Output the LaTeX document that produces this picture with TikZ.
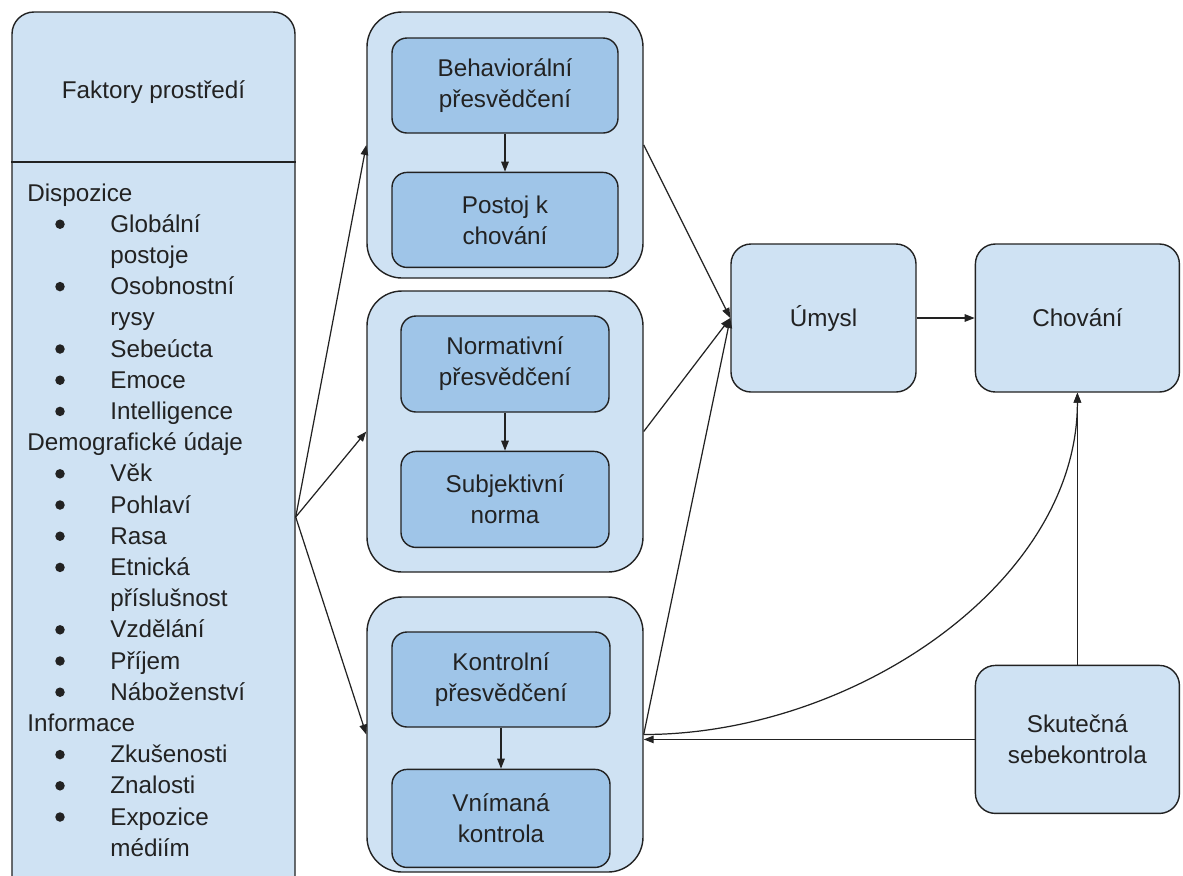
\documentclass[tikz,border=0pt]{standalone}
\usepackage{fontspec}
\setmainfont{Liberation Sans}
\usetikzlibrary{positioning,arrows.meta}
\definecolor{boxbg}{HTML}{CFE2F3}
\definecolor{innerbg}{HTML}{9FC5E8}
\definecolor{ink}{HTML}{222222}

\begin{document}
\begin{tikzpicture}[x=0.2mm,y=-0.2mm,
  every node/.style={font=\fontsize{13.8}{17.7}\selectfont,text=ink},
  >={Triangle[length=2mm,width=1.5mm]},
  group/.style={draw=ink,line width=0.8pt,fill=boxbg,rounded corners=7mm,minimum width=55.2mm},
  inner/.style={draw=ink,line width=0.8pt,fill=innerbg,rounded corners=3mm,align=center,minimum height=19mm},
  outer/.style={draw=ink,line width=0.8pt,fill=boxbg,rounded corners=4mm,align=center,minimum height=29.6mm},
  conn/.style={->,line width=0.7pt,draw=ink},
  listtxt/.style={anchor=base west,inner sep=0pt}]
  \useasboundingbox (0,0) rectangle (1183,875);
  \clip (0,0) rectangle (1183,875);

  % left column
  \node[draw=ink,line width=0.8pt,fill=boxbg,rounded corners=4.4mm,
        minimum width=56.6mm,minimum height=202mm,inner sep=0pt] (factors) at (153.5,517) {};
  \draw[line width=0.8pt,draw=ink] (factors.west |- 0,162) -- (factors.east |- 0,162);
  \node (ftitle) at (153.5,92) {Faktory prostředí};
  \foreach \k/\t [count=\i from 0] in {0/Dispozice,1/Globální,1/postoje,1/Osobnostní,1/rysy,
      1/Sebeúcta,1/Emoce,1/Intelligence,0/Demografické údaje,1/Věk,1/Pohlaví,1/Rasa,
      1/Etnická,1/příslušnost,1/Vzdělání,1/Příjem,1/Náboženství,0/Informace,
      1/Zkušenosti,1/Znalosti,1/Expozice,1/médiím}
    \node[listtxt] (li\i) at ({27+83*\k},{201+31.2*\i}) {\t};
  \foreach \i in {1,3,5,6,7,9,10,11,12,14,15,16,18,19,20}
    \fill[ink] (60,{193+31.2*\i}) circle[radius=0.95mm];

  % middle groups
  \node[group,minimum height=53.2mm] (g1) at (505,145) {};
  \node[group,minimum height=56.2mm] (g2) at (505,431.5) {};
  \node[group,minimum height=55mm] (g3) at (505,734.5) {};

  \node[inner,minimum width=45.2mm] (bpres) at (505,85.5) {Behaviorální\\přesvědčení};
  \node[inner,minimum width=45.2mm,below=7.6mm of bpres] (postoj) {Postoj k\\chování};
  \node[inner,minimum width=41.6mm,minimum height=19.2mm] (npres) at (505,364) {Normativní\\přesvědčení};
  \node[inner,minimum width=41.6mm,minimum height=19.2mm,below=7.6mm of npres] (subj) {Subjektivní\\norma};
  \node[inner,minimum width=43.6mm] (kpres) at (501,679.5) {Kontrolní\\přesvědčení};
  \node[inner,minimum width=43.6mm,minimum height=19.6mm,below=8.2mm of kpres] (vnim) {Vnímaná\\kontrola};

  % right side
  \node[outer,minimum width=37mm] (umysl) at (823.5,318) {Úmysl};
  \node[outer,minimum width=40.8mm,right=11.6mm of umysl] (chovani) {Chování};
  \node[outer,minimum width=40.8mm,below=54.4mm of chovani] (skut) {Skutečná\\sebekontrola};

  \draw[conn] (bpres) -- (postoj);
  \draw[conn] (npres) -- (subj);
  \draw[conn] (kpres) -- (vnim);
  \draw[conn] (factors.east) -- (g1.west);
  \draw[conn] (factors.east) -- (g2.west);
  \draw[conn] (factors.east) -- (g3.west);
  \draw[conn] (g1.east) -- (umysl.west);
  \draw[conn] (g2.east) -- (umysl.west);
  \draw[conn] (g3.east) -- (umysl.west);
  \draw[conn] (umysl) -- (chovani);
  \draw[conn] (skut) -- (chovani);
  \draw[conn] (skut.west) -- (skut.west -| g3.east);
  \draw[conn] (g3.east) .. controls +(210,0) and +(0,190) .. (chovani.south);
\end{tikzpicture}
\end{document}
